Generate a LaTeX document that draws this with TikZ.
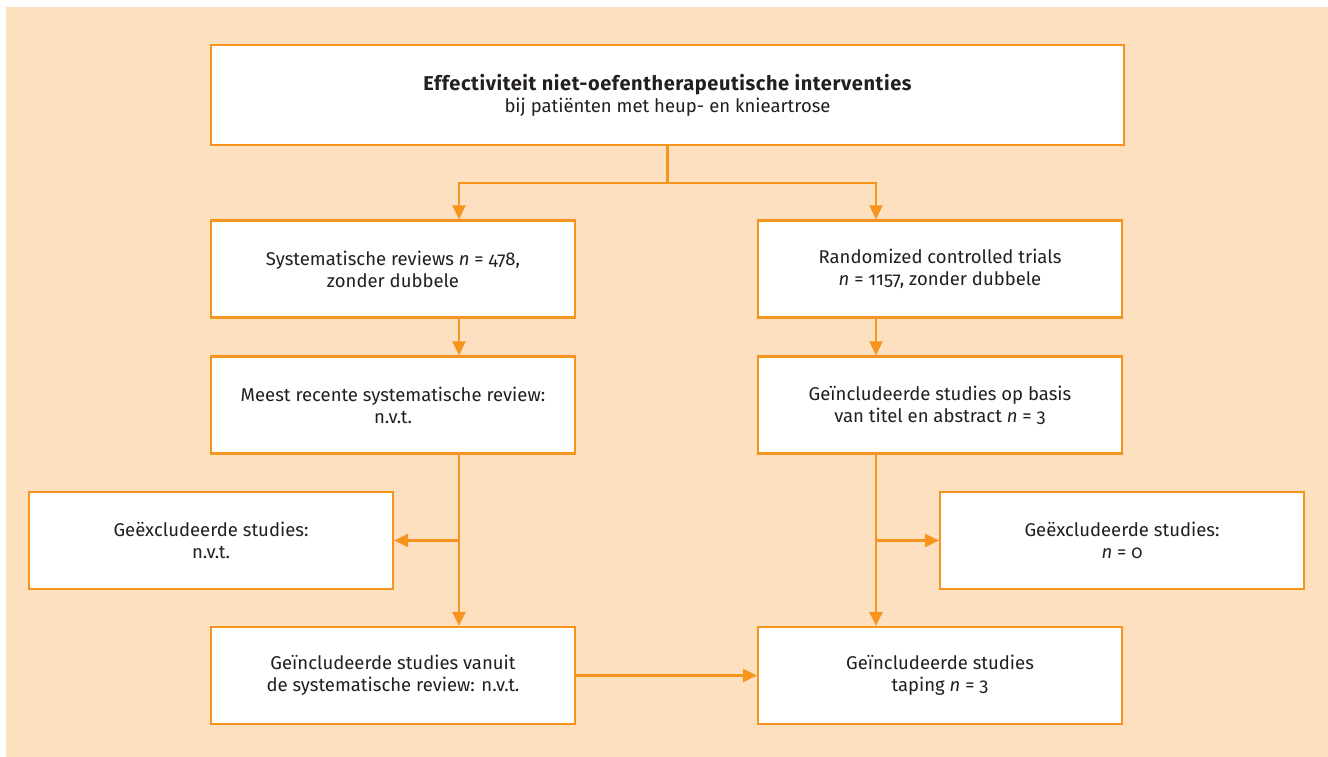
\documentclass[tikz,border=0pt]{standalone}
\usepackage{fontspec}
\setmainfont{Fira Sans}[Numbers=OldStyle]
\usetikzlibrary{arrows.meta}
\definecolor{peach}{HTML}{FDE0BF}
\definecolor{flow}{HTML}{F7941E}
\definecolor{ink}{HTML}{231F20}
\begin{document}
\begin{tikzpicture}[x=1pt,y=-1pt,
  every node/.style={text=ink, font=\fontsize{18.5}{22}\selectfont},
  stepbox/.style={draw=flow, fill=white, line width=2.2pt, align=center,
    minimum width=364pt, minimum height=97pt, inner sep=0pt},
  arr/.style={draw=flow, line width=2.2pt, -{Triangle[length=14pt,width=13pt]}},
  ln/.style={draw=flow, line width=2.2pt}]
\useasboundingbox (0,0) rectangle (1328,757);
\fill[peach] (6,7) rectangle (1328,757);

% boxes
\node[stepbox, minimum width=913pt, minimum height=100pt] (top) at (667.5,95)
  {{\fontsize{20}{24}\selectfont\addfontfeatures{LetterSpace=3}\bfseries Effectiviteit niet-oefentherapeutische interventies}\\bij patiënten met heup- en knieartrose};
\node[stepbox] (sr) at (393,269) {Systematische reviews \textit{n} = 478,\\zonder dubbele};
\node[stepbox] (rct) at (940,269) {Randomized controlled trials\\\textit{n} = 1157, zonder dubbele};
\node[stepbox] (msr) at (393,405) {Meest recente systematische review:\\n.v.t.};
\node[stepbox] (incrct) at (940,405) {Geïncludeerde studies op basis\\van titel en abstract \textit{n} = 3};
\node[stepbox] (exl) at (211,540.5) {Geëxcludeerde studies:\\n.v.t.};
\node[stepbox] (exr) at (1122,540.5) {Geëxcludeerde studies:\\\textit{n} = 0};
\node[stepbox] (incsr) at (393,675.5) {Geïncludeerde studies vanuit\\de systematische review: n.v.t.};
\node[stepbox] (final) at (940,675.5) {Geïncludeerde studies\\taping \textit{n} = 3};

% column guides
\coordinate (lc) at (459,0);
\coordinate (rc) at (876,0);

% connectors
\draw[ln] (top.south) -- (top.south |- 0,183) coordinate (split);
\draw[arr] (split) -| (lc |- sr.north);
\draw[arr] (split) -| (rc |- rct.north);
\draw[arr] (lc |- sr.south) -- (lc |- msr.north);
\draw[arr] (rc |- rct.south) -- (rc |- incrct.north);
\draw[arr] (lc |- msr.south) -- (lc |- incsr.north);
\draw[arr] (rc |- incrct.south) -- (rc |- final.north);
\draw[arr] (lc |- exl.east) -- (exl.east);
\draw[arr] (rc |- exr.west) -- (exr.west);
\draw[arr] (incsr.east) -- (final.west);
\end{tikzpicture}
\end{document}
